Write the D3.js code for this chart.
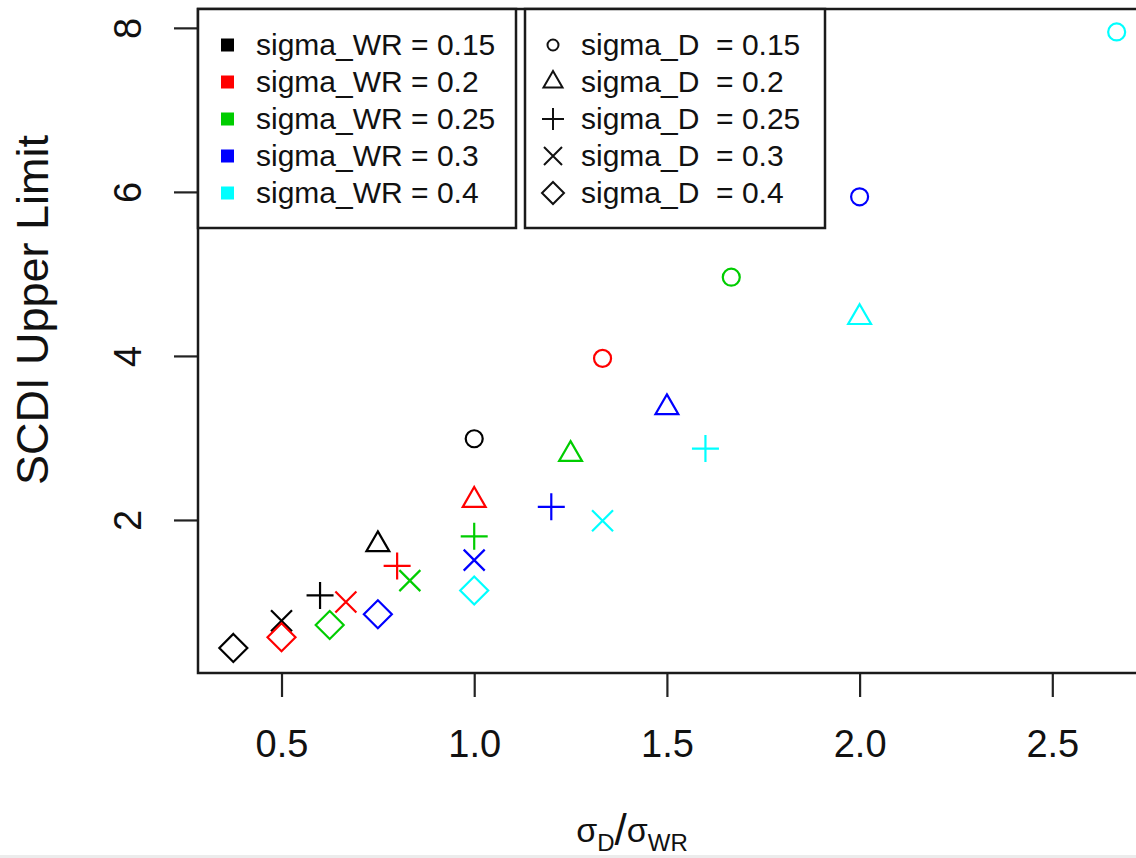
<!DOCTYPE html>
<html>
<head>
<meta charset="utf-8">
<script src="https://cdn.jsdelivr.net/npm/d3@7"></script>
<style>
  html, body { margin: 0; padding: 0; background: #fff; }
  svg text { font-family: "Liberation Sans", Arial, sans-serif; }
</style>
</head>
<body>
<svg id="chart" width="1136" height="858"></svg>
<script>
// ---- data ----
const groupLabels = ["sigma_WR = 0.15", "sigma_WR = 0.2", "sigma_WR = 0.25", "sigma_WR = 0.3", "sigma_WR = 0.4"];
const shapeLabels = ["sigma_D  = 0.15", "sigma_D  = 0.2", "sigma_D  = 0.25", "sigma_D  = 0.3", "sigma_D  = 0.4"];
const groupColors = ["#000000", "#FF0000", "#00CD00", "#0000FF", "#00FFFF"];
const shapeNames = ["circle", "triangle", "plus", "cross", "diamond"];
// x = ratio, one value per sigma_D level (circle, triangle, plus, cross, diamond)
const xWR015 = [1.0, 0.75, 0.6, 0.5, 0.375];
const xWR020 = [1.333, 1.0, 0.8, 0.667, 0.5];
const xWR025 = [1.667, 1.25, 1.0, 0.833, 0.625];
const xWR030 = [2.0, 1.5, 1.2, 1.0, 0.75];
const xWR040 = [2.667, 2.0, 1.6, 1.333, 1.0];
const yWR015 = [2.99, 1.70, 1.08, 0.77, 0.44];
const yWR020 = [3.97, 2.24, 1.44, 1.00, 0.57];
const yWR025 = [4.96, 2.80, 1.80, 1.26, 0.72];
const yWR030 = [5.94, 3.37, 2.16, 1.51, 0.85];
const yWR040 = [7.95, 4.47, 2.87, 1.99, 1.14];
const xTicks = [0.5, 1.0, 1.5, 2.0, 2.5];
const yTicks = [2, 4, 6, 8];

const xSeries = [xWR015, xWR020, xWR025, xWR030, xWR040];
const ySeries = [yWR015, yWR020, yWR025, yWR030, yWR040];
const points = [];
xSeries.forEach((xs, g) => xs.forEach((xv, s) => points.push({x: xv, y: ySeries[g][s], g, s})));

// ---- layout ----
const W = 1136, H = 858;
const plot = {left: 198, top: 9, right: 1152, bottom: 673};
const svg = d3.select("#chart");

const x = d3.scaleLinear().domain([0.2833, 2.7587]).range([plot.left, plot.right]);
const y = d3.scaleLinear().domain([0.134, 8.23]).range([plot.bottom, plot.top]);

function shapePath(name, r) {
  const p = d3.path();
  if (name === "circle") { p.moveTo(r, 0); p.arc(0, 0, r, 0, 2 * Math.PI); p.closePath(); }
  else if (name === "triangle") { p.moveTo(0, -r); p.lineTo(0.866 * r, 0.5 * r); p.lineTo(-0.866 * r, 0.5 * r); p.closePath(); }
  else if (name === "plus") { p.moveTo(-r, 0); p.lineTo(r, 0); p.moveTo(0, -r); p.lineTo(0, r); }
  else if (name === "cross") { p.moveTo(-r, -r); p.lineTo(r, r); p.moveTo(-r, r); p.lineTo(r, -r); }
  else if (name === "diamond") { p.moveTo(0, -r); p.lineTo(r, 0); p.lineTo(0, r); p.lineTo(-r, 0); p.closePath(); }
  return p.toString();
}
const plotSize = {circle: 8.5, triangle: 13.2, plus: 13.5, cross: 10.5, diamond: 14};
const legSize = {circle: 5.5, triangle: 11, plus: 11, cross: 9, diamond: 11};

// ---- axes ----
const xAxis = d3.axisBottom(x).tickValues(xTicks).tickFormat(d3.format(".1f")).tickSize(24).tickPadding(10);
const gx = svg.append("g").attr("transform", `translate(0,${plot.bottom})`).call(xAxis);
gx.select(".domain").remove();
gx.selectAll(".tick line").attr("stroke", "#222").attr("stroke-width", 2.2);
gx.selectAll(".tick text").attr("font-size", 38).attr("fill", "#111")
  .attr("font-family", "Liberation Sans, Arial, sans-serif").attr("dy", "0.71em").attr("y", 57);

const yAxis = d3.axisLeft(y).tickValues(yTicks).tickFormat(d3.format("d")).tickSize(24);
const gy = svg.append("g").attr("transform", `translate(${plot.left},0)`).call(yAxis);
gy.select(".domain").remove();
gy.selectAll(".tick line").attr("stroke", "#222").attr("stroke-width", 2.2);
gy.selectAll(".tick text")
  .attr("font-size", 38).attr("fill", "#111").attr("font-family", "Liberation Sans, Arial, sans-serif")
  .attr("x", null).attr("dy", null)
  .attr("text-anchor", "middle")
  .attr("transform", "translate(-57,0) rotate(-90)");

// plot box
svg.append("rect").attr("x", plot.left).attr("y", plot.top)
  .attr("width", plot.right - plot.left).attr("height", plot.bottom - plot.top)
  .attr("fill", "none").attr("stroke", "#1a1a1a").attr("stroke-width", 2.5);

// axis titles
svg.append("text").attr("transform", `translate(48,310) rotate(-90)`)
  .attr("text-anchor", "middle").attr("font-size", 45).attr("fill", "#111")
  .text("SCDI Upper Limit");

const xt = svg.append("text").attr("x", 632).attr("y", 842).attr("text-anchor", "middle")
  .attr("font-size", 34).attr("fill", "#111");
xt.append("tspan").text("σ");
xt.append("tspan").attr("font-size", 24).attr("dy", 9).text("D");
xt.append("tspan").attr("font-size", 44).attr("dy", -6).text("/");
xt.append("tspan").attr("font-size", 34).attr("dy", -3).text("σ");
xt.append("tspan").attr("font-size", 24).attr("dy", 9).text("WR");

// ---- points ----
svg.append("g").selectAll("path").data(points).join("path")
  .attr("transform", d => `translate(${x(d.x)},${y(d.y)})`)
  .attr("d", d => shapePath(shapeNames[d.s], plotSize[shapeNames[d.s]]))
  .attr("fill", "none").attr("stroke", d => groupColors[d.g]).attr("stroke-width", 2.2);

// ---- legends ----
const leg1 = {x0: 198, x1: 516, y0: 9, y1: 228};
const leg2 = {x0: 525, x1: 825, y0: 9, y1: 228};
const rowY = d3.scalePoint().domain(d3.range(5)).range([45, 193]);

svg.append("rect").attr("x", leg1.x0).attr("y", leg1.y0).attr("width", leg1.x1 - leg1.x0).attr("height", leg1.y1 - leg1.y0)
  .attr("fill", "#fff").attr("stroke", "#1a1a1a").attr("stroke-width", 2.5);
svg.append("rect").attr("x", leg2.x0).attr("y", leg2.y0).attr("width", leg2.x1 - leg2.x0).attr("height", leg2.y1 - leg2.y0)
  .attr("fill", "#fff").attr("stroke", "#1a1a1a").attr("stroke-width", 2.5);

const l1 = svg.append("g").selectAll("g").data(groupLabels).join("g")
  .attr("transform", (d, i) => `translate(0,${rowY(i)})`);
l1.append("rect").attr("x", 221).attr("y", -6.5).attr("width", 13).attr("height", 13)
  .attr("fill", (d, i) => groupColors[i]);
l1.append("text").attr("x", 256).attr("y", 10).attr("font-size", 30).attr("fill", "#111")
  .attr("xml:space", "preserve").style("white-space", "pre").text(d => d);

const l2 = svg.append("g").selectAll("g").data(shapeLabels).join("g")
  .attr("transform", (d, i) => `translate(0,${rowY(i)})`);
l2.append("path").attr("transform", "translate(553,0)")
  .attr("d", (d, i) => shapePath(shapeNames[i], legSize[shapeNames[i]]))
  .attr("fill", "none").attr("stroke", "#111").attr("stroke-width", 2);
l2.append("text").attr("x", 581).attr("y", 10).attr("font-size", 30).attr("fill", "#111")
  .attr("xml:space", "preserve").style("white-space", "pre").text(d => d);

// bottom strip of the screenshot
svg.append("rect").attr("x", 0).attr("y", 855).attr("width", W).attr("height", 3).attr("fill", "#ececec");
</script>
</body>
</html>
